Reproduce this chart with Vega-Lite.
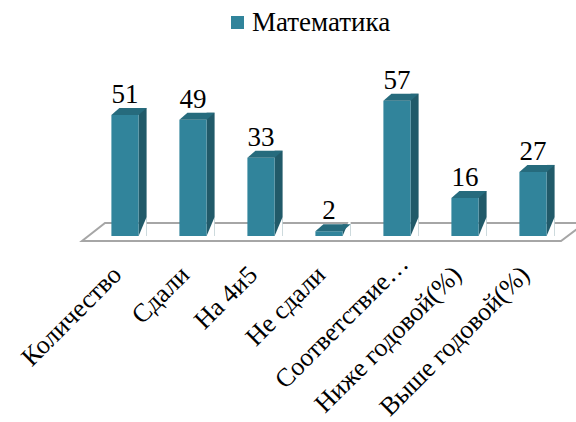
{
  "$schema": "https://vega.github.io/schema/vega-lite/v6.json",
  "autosize": "none",
  "width": 476,
  "height": 173,
  "padding": {"left": 91, "top": 63, "right": 9, "bottom": 186},
  "background": "white",
  "config": {"view": {"stroke": null}, "font": "Liberation Serif"},
  "data": {
    "values": [
      {"category": "Количество", "value": 51, "series": "Математика"},
      {"category": "Сдали", "value": 49, "series": "Математика"},
      {"category": "На 4и5", "value": 33, "series": "Математика"},
      {"category": "Не сдали", "value": 2, "series": "Математика"},
      {"category": "Соответствие…", "value": 57, "series": "Математика"},
      {"category": "Ниже годовой(%)", "value": 16, "series": "Математика"},
      {"category": "Выше годовой(%)", "value": 27, "series": "Математика"}
    ]
  },
  "encoding": {
    "x": {
      "field": "category",
      "type": "nominal",
      "sort": ["Количество", "Сдали", "На 4и5", "Не сдали", "Соответствие…", "Ниже годовой(%)", "Выше годовой(%)"],
      "scale": {"type": "band", "paddingInner": 0.6, "paddingOuter": 0.3},
      "axis": {
        "title": null,
        "domain": false,
        "ticks": false,
        "labelAngle": -45,
        "labelAlign": "right",
        "labelBaseline": "top",
        "labelPadding": {"condition": {"test": "datum.value === 'Соответствие…'", "value": 14}, "value": 25},
        "labelOffset": {"condition": {"test": "datum.value === 'Соответствие…'", "value": -2}, "value": -17},
        "labelFont": "Liberation Serif",
        "labelFontSize": 26,
        "labelColor": "#000000",
        "labelLimit": 0,
        "labelOverlap": false
      }
    },
    "y": {"field": "value", "type": "quantitative", "scale": {"domain": [0, 72.9], "nice": false, "zero": true}, "axis": null}
  },
  "layer": [
    {
      "transform": [{"filter": "datum.category === 'Не сдали'"}],
      "mark": {
        "type": "point",
        "shape": "M -0.9648 0.0195 L 0.9063 0.0195 L 1 -0.0508 L -0.875 -0.0508 Z",
        "size": 262144,
        "filled": false,
        "fill": "#ffffff",
        "fillOpacity": 1,
        "stroke": "#a6a6a6",
        "strokeWidth": 2,
        "opacity": 1
      },
      "encoding": {
        "y": {"datum": 0, "type": "quantitative"}
      }
    },
    {
      "mark": {"type": "bar", "width": 8, "xOffset": 17.6, "yOffset": -7, "y2Offset": 0, "color": "#215a69"},
      "encoding": {
        "y2": {"datum": 0}
      }
    },
    {
      "mark": {
        "type": "point",
        "shape": "M 0.63 0 L 1 -0.875 L 1 0.1 L 0.63 0.1 Z",
        "size": 1866.24,
        "filled": true,
        "color": "#ffffff",
        "strokeWidth": 0,
        "opacity": 1
      },
      "encoding": {
        "y": {"datum": 0, "type": "quantitative"}
      }
    },
    {
      "mark": {"type": "bar", "width": 27.2},
      "encoding": {
        "y2": {"datum": 0},
        "color": {
          "field": "series",
          "type": "nominal",
          "scale": {"range": ["#31849b"]},
          "legend": {
            "title": null,
            "orient": "none",
            "legendX": 133,
            "legendY": -54,
            "symbolType": "square",
            "symbolSize": 169,
            "symbolStrokeWidth": 0,
            "labelFont": "Liberation Serif",
            "labelFontSize": 27,
            "labelColor": "#000000",
            "labelOffset": 1
          }
        }
      }
    },
    {
      "mark": {
        "type": "point",
        "shape": "M -0.63 0 L 0.63 0 L 1 -0.324 L -0.259 -0.324 Z",
        "size": 1866.24,
        "filled": true,
        "color": "#266b7d",
        "strokeWidth": 0,
        "opacity": 1
      }
    },
    {
      "mark": {"type": "text", "baseline": "alphabetic", "align": "center", "dy": -12, "font": "Liberation Serif", "fontSize": 27, "color": "#000000"},
      "encoding": {
        "text": {"field": "value", "type": "quantitative"}
      }
    }
  ]
}
